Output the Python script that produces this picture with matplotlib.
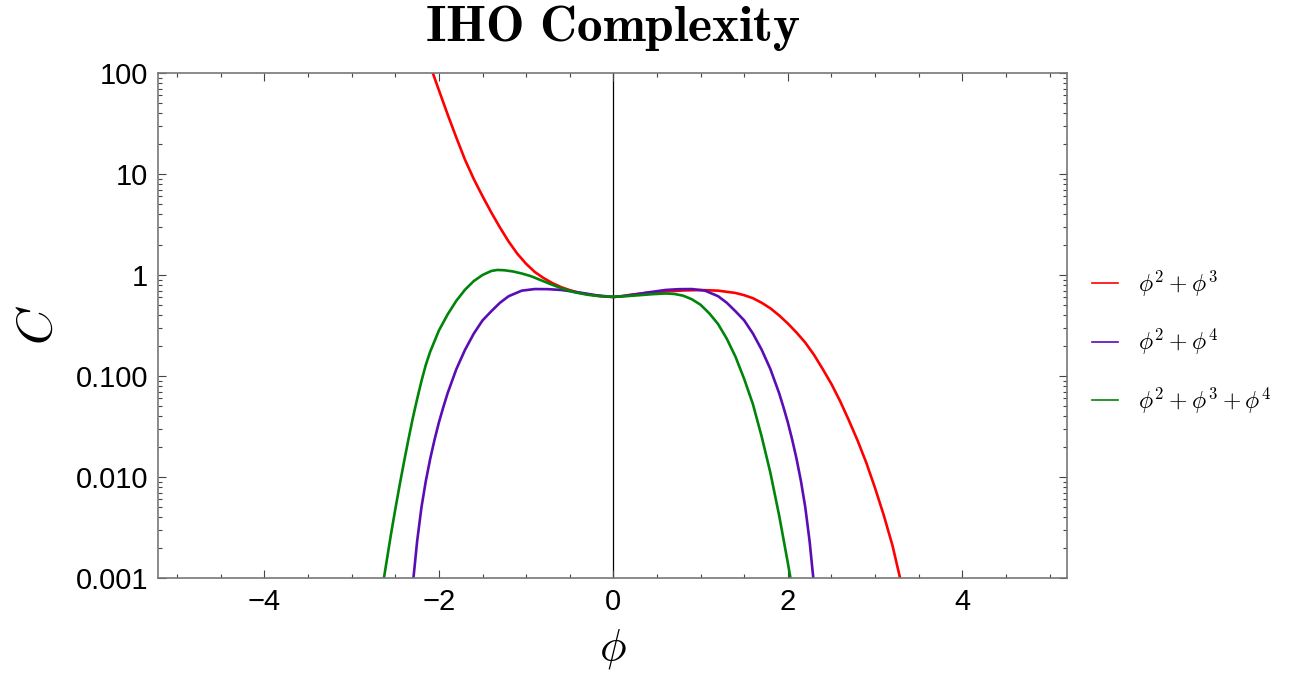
import matplotlib
matplotlib.use("Agg")
import matplotlib.pyplot as plt
from matplotlib.ticker import FixedLocator, NullFormatter, LogLocator, MultipleLocator

plt.rcParams['mathtext.fontset'] = 'cm'

# ---- data ----
red_x = [-2.15, -2.07, -2.0, -1.9, -1.8, -1.7, -1.6, -1.5, -1.4, -1.3, -1.2, -1.1, -1.0, -0.9,
         -0.8, -0.7, -0.6, -0.5, -0.4, -0.3, -0.2, -0.1, 0.0,
         0.1, 0.2, 0.4, 0.6, 0.8, 1.0, 1.2, 1.4, 1.5, 1.6, 1.7, 1.8, 1.9, 2.0, 2.1, 2.2,
         2.3, 2.4, 2.5, 2.6, 2.7, 2.8, 2.9, 3.0, 3.1, 3.2, 3.3, 3.35]
red_y = [158, 100, 67.6, 38.9, 22.9, 13.8, 8.91, 6.03, 4.17, 2.95, 2.14, 1.62, 1.29, 1.07,
         0.933, 0.832, 0.759, 0.708, 0.668, 0.646, 0.624, 0.612, 0.605,
         0.617, 0.638, 0.668, 0.687, 0.703, 0.710, 0.700, 0.664, 0.631, 0.589, 0.531, 0.468,
         0.398, 0.331, 0.269, 0.214, 0.162, 0.117, 0.0832, 0.0562, 0.0363, 0.0229, 0.0138,
         0.00776, 0.00417, 0.00209, 0.00089, 0.00056]

purple_x = [-2.31, -2.28, -2.25, -2.2, -2.15, -2.1, -2.05, -2.0, -1.95, -1.9, -1.8, -1.7, -1.6,
            -1.5, -1.4, -1.3, -1.2, -1.05, -0.9, -0.75, -0.6, -0.4, -0.2, 0.0,
            0.2, 0.4, 0.6, 0.75, 0.9, 1.05, 1.2, 1.3, 1.4, 1.5, 1.6, 1.7, 1.8, 1.9, 1.95,
            2.0, 2.05, 2.1, 2.15, 2.2, 2.25, 2.28, 2.31]
purple_y = [0.00071, 0.00126, 0.00229, 0.00501, 0.00912, 0.0151, 0.0234, 0.0347, 0.0490, 0.0676,
            0.117, 0.182, 0.263, 0.355, 0.437, 0.531, 0.617, 0.700, 0.726, 0.724, 0.711, 0.673,
            0.631, 0.605,
            0.631, 0.673, 0.711, 0.724, 0.726, 0.700, 0.617, 0.531, 0.437, 0.355, 0.263, 0.182,
            0.117, 0.0676, 0.0490, 0.0347, 0.0234, 0.0151, 0.00912, 0.00501, 0.00229, 0.00126,
            0.00071]

green_x = [-2.66, -2.63, -2.55, -2.5, -2.45, -2.4, -2.35, -2.3, -2.25, -2.2, -2.15, -2.1, -2.0,
           -1.9, -1.8, -1.7, -1.6, -1.5, -1.4, -1.33, -1.25, -1.15, -1.05, -0.95, -0.85, -0.75,
           -0.6, -0.45, -0.3, -0.15, 0.0,
           0.15, 0.3, 0.45, 0.6, 0.7, 0.8, 0.9, 1.0, 1.1, 1.2, 1.3, 1.4, 1.5, 1.6, 1.7, 1.8,
           1.9, 2.0, 2.03, 2.06]
green_y = [0.00068, 0.001, 0.00269, 0.00479, 0.00832, 0.0141, 0.0234, 0.0380, 0.0589, 0.0891,
           0.129, 0.174, 0.282, 0.407, 0.556, 0.716, 0.871, 1.0, 1.096, 1.122, 1.114, 1.084,
           1.035, 0.977, 0.902, 0.832, 0.741, 0.676, 0.638, 0.617, 0.610,
           0.617, 0.631, 0.646, 0.656, 0.649, 0.624, 0.575, 0.507, 0.417, 0.327, 0.234, 0.155,
           0.0933, 0.0525, 0.0251, 0.0110, 0.00417, 0.00141, 0.001, 0.00071]

labels = [r'$\phi^{\mathbf{2}}+\phi^{\mathbf{3}}$',
          r'$\phi^{\mathbf{2}}+\phi^{\mathbf{4}}$',
          r'$\phi^{\mathbf{2}}+\phi^{\mathbf{3}}+\phi^{\mathbf{4}}$']
colors = ['#FF0000', '#5A0DB5', '#00850A']

y_ticks = [0.001, 0.01, 0.1, 1, 10, 100]
y_ticklabels = ['0.001', '0.010', '0.100', '1', '10', '100']
x_ticks = [-4, -2, 0, 2, 4]
x_ticklabels = ['\u22124', '\u22122', '0', '2', '4']

# ---- figure ----
fig = plt.figure(figsize=(12.93, 6.73), dpi=100)
ax = fig.add_axes([158/1293, 1-578/673, (1067-158)/1293, (578-73)/673])

lines = []
for xs, ys, c, lab in zip([red_x, purple_x, green_x], [red_y, purple_y, green_y], colors, labels):
    ln, = ax.plot(xs, ys, color=c, lw=1.9, label=lab, solid_joinstyle='round')
    lines.append(ln)

ax.axvline(0, color='black', lw=0.9, zorder=1)

ax.set_yscale('log')
ax.set_xlim(-5.22, 5.2)
ax.set_ylim(0.001, 100)

ax.yaxis.set_major_locator(FixedLocator(y_ticks))
ax.set_yticklabels(y_ticklabels)
ax.yaxis.set_minor_locator(LogLocator(base=10, subs=range(2, 10)))
ax.yaxis.set_minor_formatter(NullFormatter())
ax.set_xticks(x_ticks)
ax.set_xticklabels(x_ticklabels)
ax.xaxis.set_minor_locator(MultipleLocator(0.5))

for lab in ax.get_xticklabels() + ax.get_yticklabels():
    lab.set_fontfamily('Liberation Sans')
    lab.set_fontsize(21)

ax.tick_params(which='both', direction='in', top=True, right=True, color='#444444', width=0.8)
ax.tick_params(which='major', length=6, pad=7)
ax.tick_params(which='minor', length=3)
for s in ax.spines.values():
    s.set_color('#777777')
    s.set_linewidth(1.2)

ax.set_xlabel(r'$\phi$', fontsize=32, labelpad=8)
ax.set_ylabel(r'$C$', fontsize=36, labelpad=10)

fig.text(613/1293, 1-28/673, r'$\mathbf{IHO\ Complexity}$', ha='center', va='center', fontsize=37)

leg = fig.legend(handles=lines, loc='center left', bbox_to_anchor=(1092/1293, 1-342/673),
                 frameon=False, fontsize=17, handlelength=1.1, handletextpad=0.85,
                 labelspacing=1.2, borderpad=0, borderaxespad=0)
for h in leg.legend_handles:
    h.set_linewidth(1.2)

fig.savefig('out.png', dpi=100)
